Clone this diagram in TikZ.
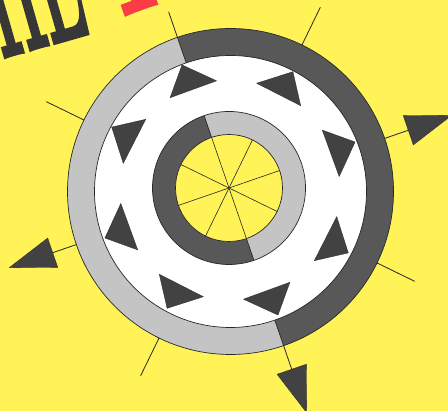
\documentclass[tikz,border=0pt]{standalone}
\usepackage{fontspec}
\newfontfamily\titlefont{lmroman10-bold.otf}[FakeBold=2]
\definecolor{bgyellow}{RGB}{255,243,88}
\definecolor{ringdark}{RGB}{88,88,88}
\definecolor{ringlight}{RGB}{196,196,196}
\definecolor{trigray}{RGB}{66,66,66}
\definecolor{linec}{RGB}{40,40,40}
\definecolor{titlegray}{RGB}{55,55,55}
\definecolor{titlered}{RGB}{250,60,70}
\begin{document}
\begin{tikzpicture}[x=1pt,y=1pt,
  outl/.style={draw=linec, line width=0.7pt},
  tri/.style={fill=trigray, draw=linec, line width=0.3pt, line join=round},
  tickline/.style={draw=linec, line width=0.8pt},
  spoke/.style={draw=linec, line width=0.6pt}]
\useasboundingbox (0,0) rectangle (448,411);
\clip (0,0) rectangle (448,411);
\fill[bgyellow] (0,0) rectangle (448,411);
% title (only the lower parts are visible)
\node[anchor=base east, rotate=16, xscale=0.3, inner sep=0, text=titlegray,
      font=\fontsize{190}{190}\titlefont] (title) at (93,379) {THE};
\node[anchor=base, rotate=20, xscale=0.4, inner sep=0, text=titlered,
      font=\fontsize{190}{190}\titlefont] (redletter) at (141,402) {T};
% outer ring
\begin{scope}[shift={(230.5,219.5)}]
  \fill[white] (0,0) circle (136);
  \fill[ringlight] (109:163) arc[start angle=109,end angle=289,radius=163]
     -- (289:136) arc[start angle=289,end angle=109,radius=136] -- cycle;
  \fill[ringdark] (-71:163) arc[start angle=-71,end angle=109,radius=163]
     -- (109:136) arc[start angle=109,end angle=-71,radius=136] -- cycle;
  \draw[outl] (0,0) circle (163);
  \draw[outl] (0,0) circle (136);
  \draw[outl] (109:136) -- (109:163);
  \draw[outl] (-71:136) -- (-71:163);
  % plain ticks
  \foreach \a in {64,154,244,334} {
    \coordinate (tin\a) at (\a:163);
    \coordinate (tout\a) at (\a:205);
    \draw[tickline] (tin\a) -- (tout\a);
  }
  % top line (head hidden)
  \coordinate (ain109) at (109:163);
  \coordinate (aout109) at (109:190);
  \draw[tickline] (ain109) -- (aout109);
  % arrows
  \foreach \a in {19,199,289} {
    \coordinate (ain\a) at (\a:163);
    \coordinate (aout\a) at (\a:190);
    \draw[tickline] (ain\a) -- (aout\a);
    \begin{scope}[rotate=\a]
      \fill[tri] (188,15.5) -- (234,0) -- (188,-15.5) -- cycle;
    \end{scope}
  }
\end{scope}
% inner ring
\begin{scope}[shift={(229,223)}]
  \fill[ringlight] (-71:76.5) arc[start angle=-71,end angle=109,radius=76.5]
     -- (109:53.5) arc[start angle=109,end angle=-71,radius=53.5] -- cycle;
  \fill[ringdark] (109:76.5) arc[start angle=109,end angle=289,radius=76.5]
     -- (289:53.5) arc[start angle=289,end angle=109,radius=53.5] -- cycle;
  \fill[bgyellow] (0,0) circle (53.5);
  \draw[outl] (0,0) circle (76.5);
  \draw[outl] (0,0) circle (53.5);
  \draw[outl] (109:53.5) -- (109:76.5);
  \draw[outl] (-71:53.5) -- (-71:76.5);
  \foreach \a in {19,64,109,154} {
    \draw[spoke] (\a:53.5) -- (\a+180:53.5);
  }
\end{scope}
% triangles in the white band
\begin{scope}[shift={(230,221)}]
  \foreach \a in {19,109,199,289} {
    \fill[tri] (\a+2:134) -- (\a+14:110) -- (\a-12:110) -- cycle;
  }
  \foreach \a in {64,154,244,334} {
    \fill[tri] (\a-2:134) -- (\a-14:110) -- (\a+12:110) -- cycle;
  }
\end{scope}
\end{tikzpicture}
\end{document}
